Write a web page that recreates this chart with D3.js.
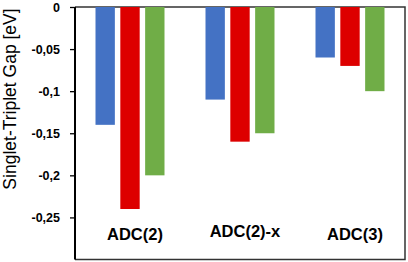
<!DOCTYPE html>
<html lang="en">
<head>
  <meta charset="UTF-8">
  <title>Singlet-Triplet Gap</title>
  <style>
    body { margin: 0; background: #fff; }
  </style>
</head>
<body>
  <svg id="svg" width="408" height="262"></svg>

  <script src="https://d3js.org/d3.v7.min.js"></script>
  <script>
    const methods = ['ADC(2)', 'ADC(2)-x', 'ADC(3)']
    const seriesNames = ['s1', 's2', 's3']
    const blueVals = [-0.14, -0.11, -0.06]
    const redVals = [-0.24, -0.16, -0.07]
    const greenVals = [-0.20, -0.15, -0.10]
    const yTicks = [0, -0.05, -0.1, -0.15, -0.2, -0.25]
    const colors = ['#4472C4', '#DD0000', '#70AD47']

    const series = [blueVals, redVals, greenVals]
    const rows = methods.map((m, i) => ({
      method: m,
      values: seriesNames.map((s, j) => ({ key: s, value: series[j][i] }))
    }))

    const plotLeft = 75, plotRight = 405, plotTop = 7, plotBottom = 259.5

    const x0 = d3.scaleBand()
      .domain(methods)
      .range([plotLeft, plotRight])

    const x1 = d3.scaleBand()
      .domain(seriesNames)
      .range([20.5, 89.5])
      .paddingInner(0.22)

    const y = d3.scaleLinear()
      .domain([0, -0.3])
      .range([plotTop, plotBottom])

    const color = d3.scaleOrdinal()
      .domain(seriesNames)
      .range(colors)

    const svg = d3.select('#svg')

    // plot frame (top, right, bottom)
    svg.append('path')
      .attr('d', `M${plotLeft},${plotTop}H${plotRight}V${plotBottom}H${plotLeft}`)
      .attr('fill', 'none')
      .attr('stroke', '#333')
      .attr('stroke-width', 1.5)

    svg.selectAll('g.group')
      .data(rows)
      .enter()
      .append('g')
      .attr('class', 'group')
      .attr('transform', d => `translate(${x0(d.method)},0)`)
      .selectAll('rect')
      .data(d => d.values)
      .enter()
      .append('rect')
      .attr('x', d => x1(d.key))
      .attr('y', y(0))
      .attr('width', x1.bandwidth())
      .attr('height', d => y(d.value) - y(0))
      .attr('fill', d => color(d.key))

    const yAxis = d3.axisLeft(y)
      .tickValues(yTicks)
      .tickSize(5)
      .tickPadding(10)
      .tickFormat(d => d === 0 ? '0' : String(d).replace('.', ','))

    const gy = svg.append('g')
      .attr('transform', `translate(${plotLeft},0)`)
      .call(yAxis)
    gy.select('.domain')
      .attr('d', `M0,${plotTop}V${plotBottom}`)
      .attr('stroke', '#000')
      .attr('stroke-width', 2)
    gy.selectAll('.tick line').attr('stroke', '#000').attr('stroke-width', 1.3)
    gy.selectAll('.tick text')
      .attr('fill', '#000')
      .style('font-family', 'Liberation Sans, Arial, sans-serif')
      .style('font-weight', 'bold')
      .style('font-size', '12.5px')

    // middle label sits a little higher in the original
    svg.selectAll('text.cat')
      .data(methods)
      .enter()
      .append('text')
      .attr('class', 'cat')
      .attr('x', d => x0(d) + x0.bandwidth() / 2 + 5)
      .attr('y', (d, i) => i === 1 ? 236.5 : 239.5)
      .attr('text-anchor', 'middle')
      .style('font-family', 'Liberation Sans, Arial, sans-serif')
      .style('font-weight', 'bold')
      .style('font-size', '16.5px')
      .text(d => d)

    svg.append('text')
      .attr('transform', `translate(16,${99}) rotate(-90)`)
      .attr('text-anchor', 'middle')
      .style('font-family', 'Liberation Sans, Arial, sans-serif')
      .style('font-size', '17.5px')
      .text('Singlet-Triplet Gap [eV]')
  </script>
</body>
</html>
